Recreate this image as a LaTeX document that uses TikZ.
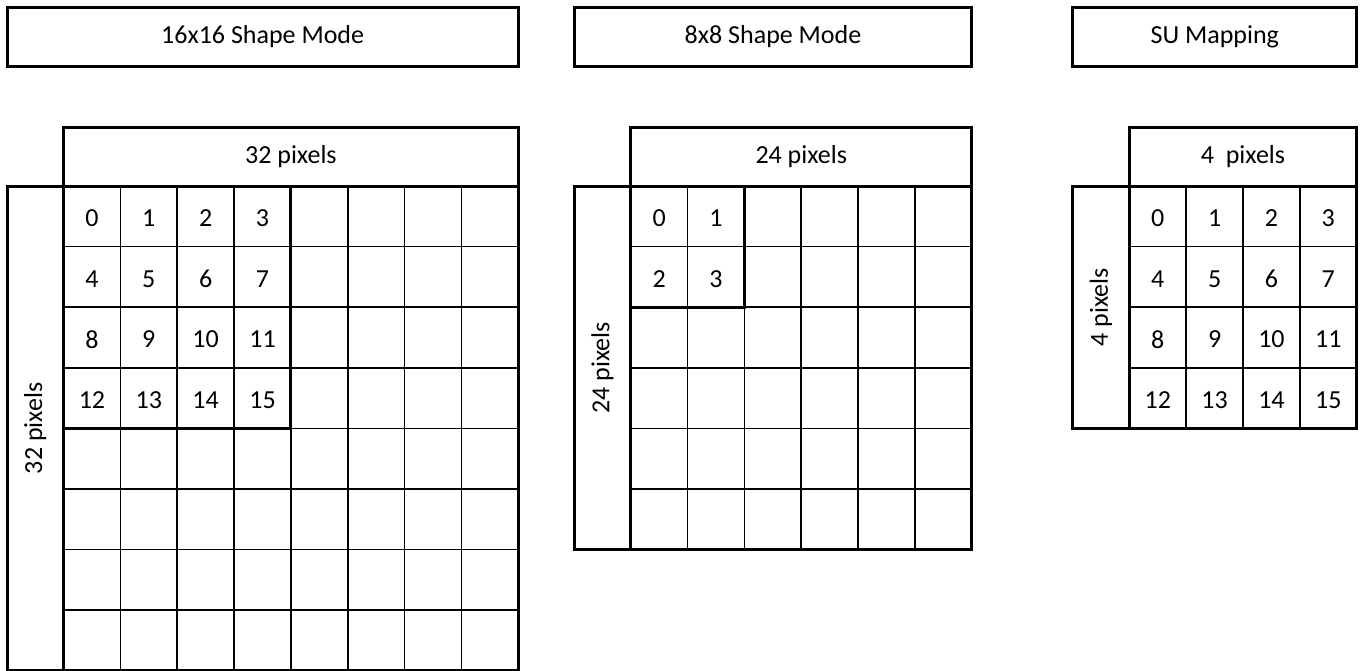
\documentclass[tikz,border=0pt]{standalone}
\usepackage{fontspec}
\setmainfont{Carlito}
\usetikzlibrary{positioning}

\begin{document}
\begin{tikzpicture}[
  x=1pt,y=-1pt,
  txt/.style={font=\fontsize{26}{31}\selectfont},
  box/.style={draw,line width=3pt,inner sep=0pt,outer sep=0pt,txt},
  cell/.style={txt,yshift=-2pt},
  thin/.style={line width=1.7pt},
  heavy/.style={line width=3pt}]
\useasboundingbox (0,0) rectangle (1360,670);
\clip (0,0) rectangle (1360,670);
% one panel per mode: name / grid x / cells per side / numbered block / texts
\foreach \p/\gx/\n/\m/\ttl/\hd/\sd in {
    A/63.5/8/4/16x16 Shape Mode/32 pixels/32 pixels,
    B/630.7/6/2/8x8 Shape Mode/24 pixels/24 pixels,
    C/1129.3/4/4/SU Mapping/4~~pixels/4 pixels}{
  \coordinate (o\p) at (\gx,186);
  \node[box,anchor=south west,minimum width={\n*56.85},minimum height=59] (hd\p) at (o\p) {\hd};
  \node[box,anchor=north east,minimum width=56.5,minimum height={\n*60.6}] (sd\p) at (o\p) {};
  \node[txt,rotate=90] (sdt\p) at (sd\p.center) {\sd};
  \node[box,minimum width={\n*56.85+56.5},minimum height=59,
        above left=61pt and 0pt of hd\p.north east] (t\p) {\ttl};
  % cell lines
  \foreach \i in {1,...,\n} {
    \draw[thin] (\gx+\i*56.85,186) -- (\gx+\i*56.85,186+\n*60.6);
    \draw[thin] (\gx,186+\i*60.6) -- (\gx+\n*56.85,186+\i*60.6);
  }
  \draw[heavy] (hd\p.south west) rectangle (\gx+\n*56.85,186+\n*60.6);
  \draw[heavy] (hd\p.south west) rectangle (\gx+\m*56.85,186+\m*60.6);
  % numbered cells
  \foreach \r in {1,...,\m} \foreach \c in {1,...,\m} {
    \pgfmathtruncatemacro\k{(\r-1)*\m+\c-1}
    \node[cell] (\p\k) at (\gx+\c*56.85-28.4,186+\r*60.6-30.3) {\k};
  }
}
\end{tikzpicture}
\end{document}
